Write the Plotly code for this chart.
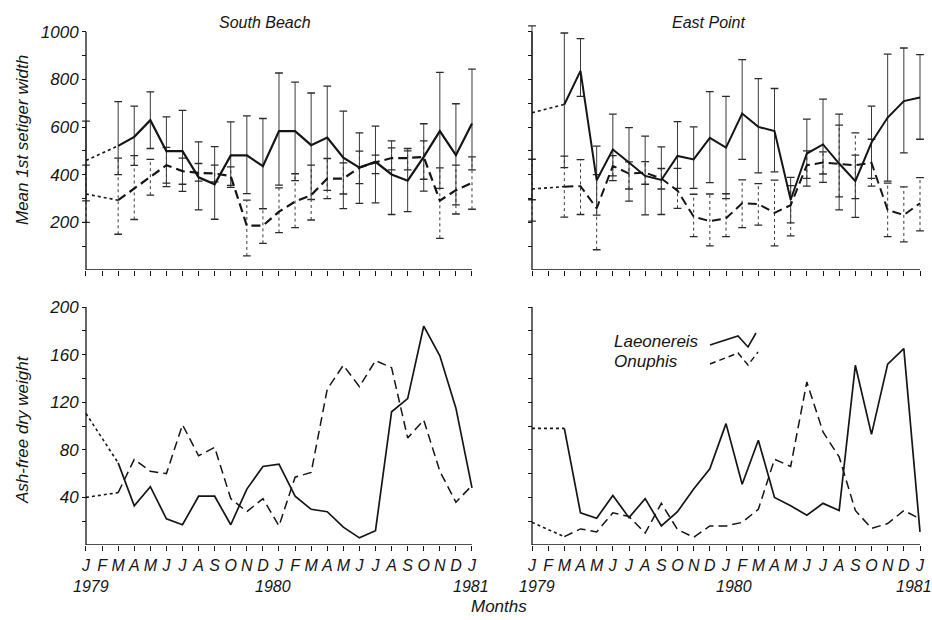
import plotly.graph_objects as go

# ---------------- data ----------------
months = ["J", "F", "M", "A", "M", "J", "J", "A", "S", "O", "N", "D",
          "J", "F", "M", "A", "M", "J", "J", "A", "S", "O", "N", "D", "J"]
years = ["1979", "1980", "1981"]
year_idx = [0, 12, 24]

# Mean 1st setiger width - South Beach
sb_lae_mean = [460, None, 521, 559, 629, 499, 499, 389, 360, 481, 481, 436, 583, 583, 524, 556, 472, 430, 454, 401, 375, 475, 583, 482, 615]
sb_lae_hi = [625, None, 707, 688, 748, 643, 670, 538, 518, 622, 647, 636, 827, 789, 743, 772, 667, 576, 604, 542, 500, 614, 830, 698, 843]
sb_lae_lo = [290, None, 400, 439, 510, 350, 330, 252, 213, 347, 321, 258, 356, 375, 296, 334, 258, 280, 282, 233, 245, 331, 343, 273, 420]
sb_onu_mean = [319, None, 293, 342, 391, 440, 415, 408, 405, 394, 186, 186, 245, 287, 314, 384, 384, 430, 452, 470, 470, 475, 291, 335, 366]
sb_onu_hi = [440, None, 470, 480, 464, 515, 470, 447, 440, 433, 293, 258, 345, 404, 440, 468, 450, 499, 482, 513, 510, 542, 429, 440, 475]
sb_onu_lo = [200, None, 150, 212, 314, 365, 360, 373, 370, 355, 59, 112, 157, 178, 210, 300, 319, 363, 405, 420, 420, 381, 133, 235, 255]

# Mean 1st setiger width - East Point
ep_lae_mean = [660, None, 695, 836, 377, 506, 451, 395, 378, 479, 464, 555, 514, 657, 601, 583, 295, 489, 527, 447, 373, 535, 640, 709, 724]
ep_lae_hi = [1025, None, 995, 971, 520, 654, 598, 562, 517, 623, 601, 749, 729, 883, 803, 762, 389, 633, 717, 654, 482, 688, 906, 932, 904]
ep_lae_lo = [295, None, 430, 729, 230, 375, 289, 231, 233, 343, 343, 367, 300, 464, 408, 412, 198, 352, 368, 252, 221, 385, 373, 492, 549]
ep_onu_mean = [340, None, 350, 352, 259, 437, 405, 409, 384, 333, 224, 205, 217, 280, 277, 240, 272, 440, 451, 444, 440, 450, 252, 231, 280]
ep_onu_hi = [465, None, 478, 463, 400, 480, 454, 455, 426, 427, 318, 319, 320, 378, 363, 377, 354, 500, 496, 608, 576, 549, 365, 349, 388]
ep_onu_lo = [205, None, 222, 233, 85, 395, 340, 360, 340, 259, 140, 101, 140, 178, 188, 101, 143, 385, 403, 307, 300, 352, 140, 118, 164]

# Ash-free dry weight
sb_lae_afdw = [110.5, None, 69, 33, 49, 22, 17, 41, 41, 17, 47, 66, 68, 41, 30, 28, 15, 6, 12, 112, 123, 184, 159, 115, 48]
sb_onu_afdw = [40, None, 44, 72, 62, 60, 101, 75, 82, 39, 28, 39, 16, 57, 61, 131, 151, 133, 155, 149, 90, 105, 62, 36, 50]
ep_lae_afdw = [98, None, 98, 27, 22.5, 41.6, 23, 39, 16, 28, 47, 64, 102, 51, 88, 40, 33, 25, 35, 29, 151, 93, 152, 165, 11]
ep_onu_afdw = [19, None, 7, 13.5, 11, 27, 24, 10, 35, 13, 6.5, 16, 16, 19, 30, 72, 66, 137, 95, 74, 29, 14, 18, 29, 22]

# ---------------- styling helpers ----------------
W, H = 932, 620
INK = "#151515"
FONT = "Liberation Sans Narrow, Liberation Sans, DejaVu Sans, sans-serif"
DASH = "9px,5px"


def fx(px):
    return px / W


def fy(py):
    return 1 - py / H


fig = go.Figure()


def add_mean(vals, dash, xa, ya, width):
    x = list(range(len(vals)))
    # dotted bridge over missing months
    gap = [i for i, v in enumerate(vals) if v is None]
    for g in gap:
        a, b = g - 1, g + 1
        fig.add_trace(go.Scatter(x=[a, b], y=[vals[a], vals[b]], mode="lines",
                                 line=dict(color=INK, width=1.6, dash="dot"),
                                 xaxis=xa, yaxis=ya, hoverinfo="skip", showlegend=False))
    fig.add_trace(go.Scatter(x=x[2:], y=vals[2:], mode="lines",
                             line=dict(color=INK, width=width, dash=dash),
                             xaxis=xa, yaxis=ya, showlegend=False))


def add_bars(hi, lo, dash, xa, ya, cap=0.24):
    vx, vy, cx, cy = [], [], [], []
    for i, (h, l) in enumerate(zip(hi, lo)):
        if h is None:
            continue
        vx += [i, i, None]
        vy += [l, h, None]
        cx += [i - cap, i + cap, None, i - cap, i + cap, None]
        cy += [h, h, None, l, l, None]
    fig.add_trace(go.Scatter(x=vx, y=vy, mode="lines",
                             line=dict(color="#3a3a3a", width=1, dash=dash),
                             xaxis=xa, yaxis=ya, hoverinfo="skip", showlegend=False))
    fig.add_trace(go.Scatter(x=cx, y=cy, mode="lines",
                             line=dict(color="#2a2a2a", width=1.3),
                             xaxis=xa, yaxis=ya, hoverinfo="skip", showlegend=False))


# top panels
add_bars(sb_lae_hi, sb_lae_lo, "solid", "x", "y")
add_bars(sb_onu_hi, sb_onu_lo, "dot", "x", "y")
add_mean(sb_lae_mean, "solid", "x", "y", 2.2)
add_mean(sb_onu_mean, DASH, "x", "y", 2.2)

add_bars(ep_lae_hi, ep_lae_lo, "solid", "x2", "y2")
add_bars(ep_onu_hi, ep_onu_lo, "dot", "x2", "y2")
add_mean(ep_lae_mean, "solid", "x2", "y2", 2.0)
add_mean(ep_onu_mean, DASH, "x2", "y2", 2.0)

# bottom panels
add_mean(sb_lae_afdw, "solid", "x3", "y3", 1.7)
add_mean(sb_onu_afdw, DASH, "x3", "y3", 1.5)
add_mean(ep_lae_afdw, "solid", "x4", "y4", 1.7)
add_mean(ep_onu_afdw, DASH, "x4", "y4", 1.5)

# ---------------- axes ----------------
n = len(months)
L0, L1 = 86, 472
R0, R1 = 532, 920
pad = 0.4
lpm = (L1 - L0) / (n - 1)
rpm = (R1 - R0) / (n - 1)
xdom_l = [fx(L0 - pad * lpm), fx(L1 + pad * lpm)]
xdom_r = [fx(R0 - pad * rpm), fx(R1 + pad * rpm)]
TOP_BASE, TOP_PX_PER = 270, 0.2382
top_max = 1040
ydom_t = [fy(TOP_BASE), fy(TOP_BASE - top_max * TOP_PX_PER)]
ydom_b = [fy(545), fy(307)]

tickfont = dict(family=FONT, size=17, color=INK, style="italic")
monthfont = dict(family=FONT, size=16, color=INK, style="italic")

xcommon = dict(range=[-pad, n - 1 + pad], showgrid=False, zeroline=False, showline=False,
               ticks="outside", ticklen=5, tickwidth=1, tickcolor=INK,
               tickvals=list(range(n)), tickangle=0, automargin=False)
top_vals = list(range(100, 1001, 100))
top_text = [str(v) if v % 200 == 0 else "" for v in top_vals]
bot_vals = list(range(20, 201, 20))
bot_text = [str(v) if v % 40 == 0 else "" for v in bot_vals]

ycommon = dict(showgrid=False, zeroline=False, showline=False, ticks="outside",
               ticklen=4, tickwidth=1, tickcolor=INK, anchor="free", automargin=False)

fig.update_layout(
    width=W, height=H, margin=dict(l=0, r=0, t=0, b=0, autoexpand=False),
    paper_bgcolor="white", plot_bgcolor="white",
    xaxis=dict(domain=xdom_l, anchor="y", showticklabels=False, **xcommon),
    xaxis2=dict(domain=xdom_r, anchor="y2", showticklabels=False, **xcommon),
    xaxis3=dict(domain=xdom_l, anchor="y3", ticktext=months, tickfont=monthfont,
                ticklabelstandoff=1, **xcommon),
    xaxis4=dict(domain=xdom_r, anchor="y4", ticktext=months, tickfont=monthfont,
                ticklabelstandoff=1, **xcommon),
    yaxis=dict(domain=ydom_t, range=[0, top_max], position=fx(L0),
               tickvals=top_vals, ticktext=top_text, tickfont=tickfont, **ycommon),
    yaxis2=dict(domain=ydom_t, range=[0, top_max], position=fx(R0),
                tickvals=top_vals, showticklabels=False, **ycommon),
    yaxis3=dict(domain=ydom_b, range=[0, 200], position=fx(L0),
                tickvals=bot_vals, ticktext=bot_text, tickfont=tickfont, **ycommon),
    yaxis4=dict(domain=ydom_b, range=[0, 200], position=fx(R0),
                tickvals=bot_vals, showticklabels=False, **ycommon),
)

# axis lines
shapes = []
for xa, ya, ytop in [("x", "y", 1000), ("x2", "y2", 1000), ("x3", "y3", 200), ("x4", "y4", 200)]:
    shapes.append(dict(type="line", xref=xa, yref=ya, x0=0, x1=n - 1, y0=0, y1=0,
                       line=dict(color=INK, width=1.3)))
    shapes.append(dict(type="line", xref=xa, yref=ya, x0=0, x1=0, y0=0, y1=ytop,
                       line=dict(color=INK, width=1.3)))


def ppath(pts):
    return "M " + " L ".join(f"{fx(a):.5f},{fy(b):.5f}" for a, b in pts)


shapes.append(dict(type="path", xref="paper", yref="paper",
                   path=ppath([(710, 345), (738, 336), (748, 347), (756, 333)]),
                   line=dict(color=INK, width=1.6)))
shapes.append(dict(type="path", xref="paper", yref="paper",
                   path=ppath([(710, 364), (738, 353), (748, 365), (758, 352)]),
                   line=dict(color=INK, width=1.5, dash="6px,4px")))
fig.update_layout(shapes=shapes)

# ---------------- text ----------------
ann = []


def txt(t, x, y, size=16, xanchor="center", angle=0):
    ann.append(dict(text=t, x=fx(x), y=fy(y), xref="paper", yref="paper",
                    showarrow=False, xanchor=xanchor, yanchor="middle", textangle=angle,
                    font=dict(family=FONT, size=size, color=INK, style="italic")))


txt("South Beach", 265, 22, 16)
txt("East Point", 708, 22, 16)
txt("Mean 1st setiger width", 22, 140, 17, angle=-90)
txt("Ash-free dry weight", 22, 430, 17, angle=-90)
txt("Months", 499, 606, 17)
txt("Laeonereis", 612, 341, 17, xanchor="left")
txt("Onuphis", 612, 361, 17, xanchor="left")

for xa, x0, ppm, offs in [("x3", L0, lpm, [5, -6, -1]), ("x4", R0, rpm, [5, 8, -6])]:
    for yr, idx, o in zip(years, year_idx, offs):
        txt(yr, x0 + idx * ppm + o, 586, 16)

fig.update_layout(annotations=ann)

fig.write_html("out.html")
